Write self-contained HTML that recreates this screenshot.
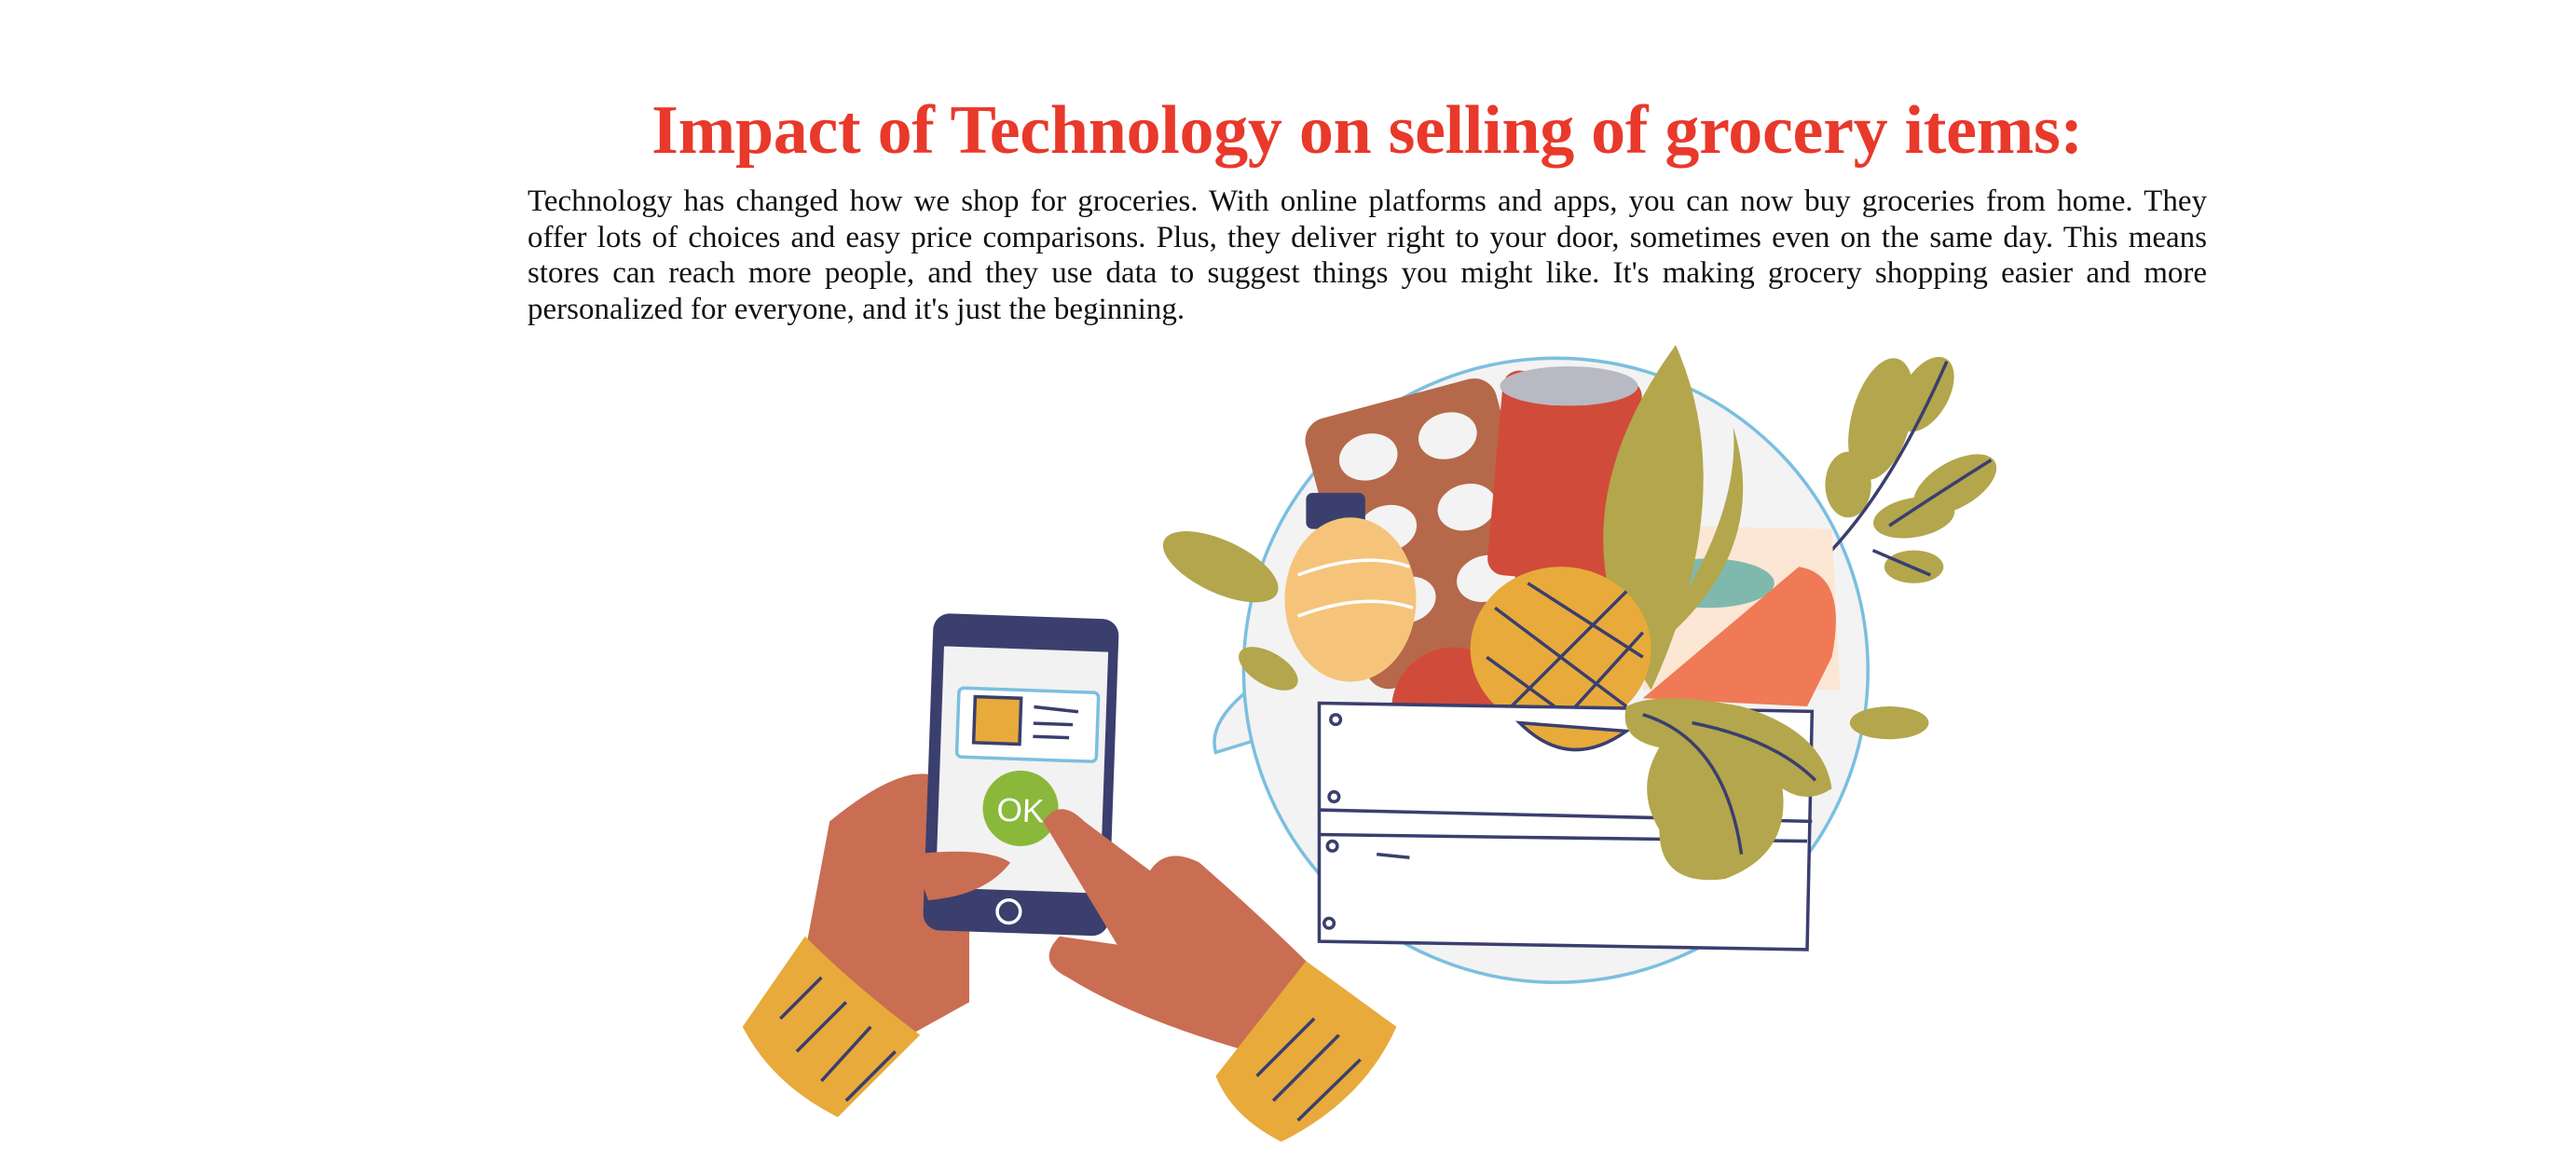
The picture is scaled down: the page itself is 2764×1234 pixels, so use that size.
<!DOCTYPE html>
<html><head><meta charset="utf-8"><style>
html,body{margin:0;padding:0;background:#fff;width:2764px;height:1234px;overflow:hidden;position:relative}
#title{position:absolute;left:85px;width:2764px;top:100px;text-align:center;font-family:"Liberation Serif",serif;font-weight:bold;font-size:74px;color:#e8392b;line-height:80px;margin:0;letter-spacing:-0.3px;white-space:nowrap}
#para{position:absolute;left:566px;top:197px;width:1802px;font-family:"Liberation Serif",serif;font-size:33px;line-height:38.5px;color:#111}
#para div{text-align:justify;text-align-last:justify;white-space:nowrap}
#para div.last{text-align-last:left}
svg{position:absolute;left:0;top:0}
</style></head><body>
<h1 id="title">Impact of Technology on selling of grocery items:</h1>
<div id="para">
<div>Technology has changed how we shop for groceries. With online platforms and apps, you can now buy groceries from home. They</div>
<div>offer lots of choices and easy price comparisons. Plus, they deliver right to your door, sometimes even on the same day. This means</div>
<div>stores can reach more people, and they use data to suggest things you might like. It's making grocery shopping easier and more</div>
<div class="last">personalized for everyone, and it's just the beginning.</div>
</div>
<svg width="2764" height="1234" viewBox="0 0 1568 700">
<g fill="none" stroke="#3a3f6e" stroke-width="2">
<path d="M760,420 Q735,440 740,458 Q760,452 772,448" fill="#f3f3f3" stroke="#7bbfe0"/>
<circle cx="947" cy="408" r="190" fill="#f3f3f3" stroke="#7bbfe0" stroke-width="2"/>
<g fill="#b3a64c" stroke="none">
<ellipse cx="1145" cy="255" rx="18" ry="38" transform="rotate(15 1145 255)"/>
<ellipse cx="1172" cy="240" rx="14" ry="25" transform="rotate(30 1172 240)"/>
<ellipse cx="1190" cy="295" rx="28" ry="14" transform="rotate(-30 1190 295)"/>
<ellipse cx="1165" cy="315" rx="25" ry="12" transform="rotate(-10 1165 315)"/>
<ellipse cx="1125" cy="295" rx="14" ry="20"/>
<ellipse cx="1165" cy="345" rx="18" ry="10"/>
<ellipse cx="743" cy="345" rx="38" ry="16" transform="rotate(25 743 345)"/>
<ellipse cx="772" cy="407" rx="20" ry="10" transform="rotate(30 772 407)"/>
<ellipse cx="1150" cy="440" rx="24" ry="10"/>
</g>
<path d="M1110,340 Q1150,300 1185,220 M1150,320 Q1180,300 1212,280 M1140,335 L1175,350" />
<g transform="rotate(-15 870 320)">
<rect x="810" y="240" width="120" height="170" rx="14" fill="#b5694a" stroke="none"/>
<g fill="#f3f3f3" stroke="none">
<ellipse cx="845" cy="270" rx="18" ry="14"/><ellipse cx="895" cy="270" rx="18" ry="14"/>
<ellipse cx="845" cy="315" rx="18" ry="14"/><ellipse cx="895" cy="315" rx="18" ry="14"/>
<ellipse cx="845" cy="360" rx="18" ry="14"/><ellipse cx="895" cy="360" rx="18" ry="14"/>
</g></g>
<rect x="910" y="228" width="85" height="125" rx="10" fill="#d14b3a" stroke="none" transform="rotate(5 950 290)"/>
<ellipse cx="955" cy="235" rx="42" ry="12" fill="#b9b9c3" stroke="none"/>
<rect x="795" y="300" width="36" height="22" rx="4" fill="#3a3f6e" stroke="none"/>
<ellipse cx="822" cy="365" rx="40" ry="50" fill="#f5c47a" stroke="none"/>
<path d="M790,350 Q830,335 858,345 M790,375 Q830,360 860,370" stroke="#fff"/>
<path d="M1010,320 L1115,322 L1120,420 L1000,420 Z" fill="#fce6d4" stroke="none"/>
<ellipse cx="1040" cy="355" rx="40" ry="15" fill="#7fb9ad" stroke="none"/>
<path d="M1000,425 L1095,345 Q1125,350 1115,400 L1100,430 Z" fill="#ef7a55" stroke="none"/>
<path d="M1005,420 Q940,320 1020,210 Q1060,300 1005,420Z" fill="#b3a64c" stroke="none"/>
<path d="M1000,400 Q1060,320 1055,260 Q1080,340 1000,400Z" fill="#b3a64c" stroke="none"/>
<circle cx="885" cy="432" r="38" fill="#d14b3a" stroke="none"/>
<ellipse cx="950" cy="395" rx="55" ry="50" fill="#e8aa3a" stroke="none"/>
<path d="M910,370 L990,430 M905,400 L960,440 M930,355 L1000,400 M990,360 L920,430 M1000,385 L950,440"/>
<path d="M803,428 L1103,433 L1100,578 L803,573 Z" fill="#fff"/>
<path d="M803,493 L1103,500 M803,508 L1100,512 M838,520 L858,522"/>
<circle cx="813" cy="438" r="3"/><circle cx="812" cy="485" r="3"/><circle cx="811" cy="515" r="3"/><circle cx="809" cy="562" r="3"/>
<path d="M925,440 Q955,470 990,445 Z" fill="#e8aa3a"/>
<path d="M990,430 Q1010,420 1060,430 Q1110,445 1115,480 Q1100,490 1085,480 Q1090,520 1050,535 Q1010,540 1010,505 Q995,480 1010,455 Q985,450 990,430Z" fill="#b3a64c" stroke="none"/>
<path d="M1000,435 Q1050,450 1060,520 M1030,440 Q1080,450 1105,475"/>
<path d="M505,500 Q560,455 580,480 L590,560 L590,610 L545,635 L490,580 Z" fill="#c96e52" stroke="none"/>
<g transform="rotate(2 620 470)">
<rect x="565" y="375" width="113" height="193" rx="10" fill="#3a3f6e" stroke="none"/>
<rect x="572" y="395" width="100" height="147" fill="#f2f2f2" stroke="none"/>
<rect x="582" y="420" width="85" height="42" rx="3" fill="#fff" stroke="#7bbfe0"/>
<rect x="592" y="425" width="28" height="28" fill="#e8aa3a"/>
<path d="M628,430 L655,432 M628,440 L652,440 M628,448 L650,448" />
<circle cx="622" cy="492" r="23" fill="#8ab83a" stroke="none"/>
<text x="622" y="500" font-family="Liberation Sans, sans-serif" font-size="20" fill="#fff" stroke="none" text-anchor="middle">OK</text>
<circle cx="617" cy="555" r="7" stroke="#fff"/>
</g>
<path d="M635,500 Q645,485 660,500 L700,530 Q710,515 730,525 Q770,560 800,590 L760,640 Q690,620 650,595 Q630,585 645,570 L680,575 Z" fill="#c96e52" stroke="none"/>
<path d="M555,520 Q600,515 615,525 Q600,545 565,548 Z" fill="#c96e52" stroke="none"/>
<path d="M490,570 Q520,600 560,630 L510,680 Q470,660 452,625 Z" fill="#e8aa3a" stroke="none"/>
<path d="M475,620 L500,595 M485,640 L515,610 M500,658 L530,625 M515,670 L545,640"/>
<path d="M795,585 L850,625 Q830,670 780,695 Q750,680 740,655 Z" fill="#e8aa3a" stroke="none"/>
<path d="M765,655 L800,620 M775,670 L815,630 M790,682 L828,645"/>
</g>
</svg>
</body></html>
